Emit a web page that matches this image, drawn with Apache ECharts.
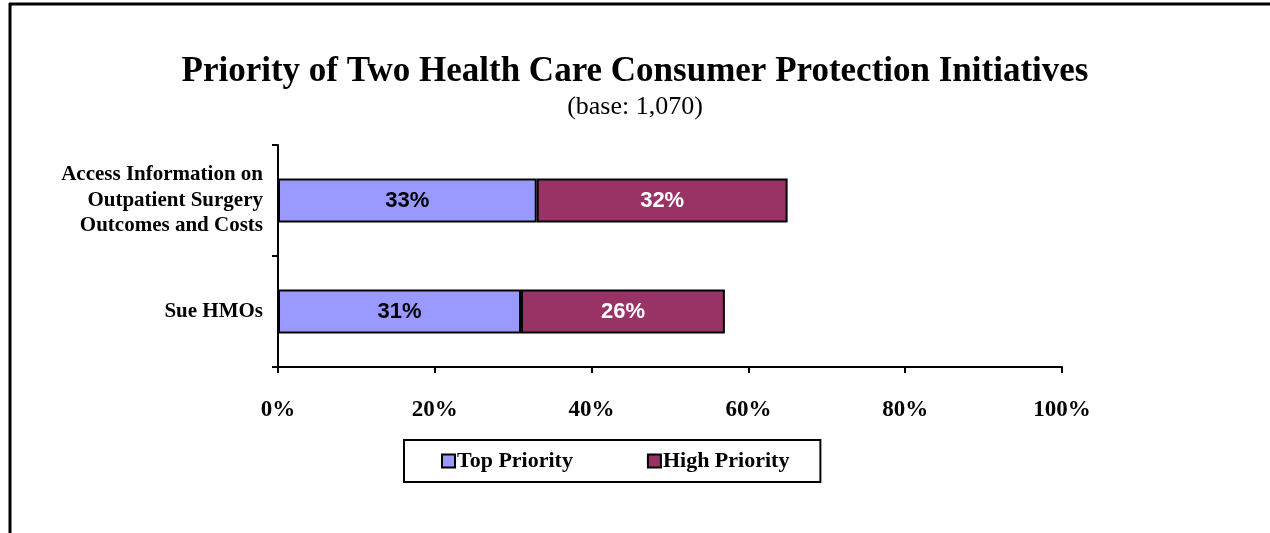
<!DOCTYPE html>
<html>
<head>
<meta charset="utf-8">
<script src="https://cdn.jsdelivr.net/npm/echarts@6/dist/echarts.min.js"></script>
<style>
html,body{margin:0;padding:0;background:#fff;}
#c{width:1270px;height:533px;}
</style>
</head>
<body>
<div id="c"></div>
<script>
const categories = ['Access Information on\nOutpatient Surgery\nOutcomes and Costs', 'Sue HMOs'];
const topPriority = [33, 31];
const highPriority = [32, 26];
const seriesNames = ['Top Priority', 'High Priority'];
const xTicks = [0, 20, 40, 60, 80, 100];

const serif = '"Liberation Serif", "Times New Roman", serif';
const sans = '"Liberation Sans", Arial, sans-serif';

const chart = echarts.init(document.getElementById('c'), null, {renderer: 'canvas'});
chart.setOption({
  backgroundColor: '#fff',
  animation: false,
  title: [{
    text: 'Priority of Two Health Care Consumer Protection Initiatives',
    left: 'center', top: 49,
    textStyle: {fontFamily: serif, fontWeight: 'bold', fontSize: 35, color: '#000'}
  }, {
    text: '(base: 1,070)',
    left: 'center', top: 89,
    textStyle: {fontFamily: serif, fontWeight: 'normal', fontSize: 26, color: '#000'}
  }],
  graphic: [
    {type: 'line', shape: {x1: 9, y1: 4, x2: 1270, y2: 4}, style: {stroke: '#000', lineWidth: 3}},
    {type: 'line', shape: {x1: 10, y1: 3, x2: 10, y2: 533}, style: {stroke: '#000', lineWidth: 3}}
  ],
  legend: {
    data: seriesNames,
    left: 404, top: 440,
    padding: [10, 31, 10, 37],
    itemGap: 74,
    itemWidth: 13, itemHeight: 13,
    icon: 'rect',
    borderColor: '#000', borderWidth: 2,
    textStyle: {fontFamily: serif, fontWeight: 'bold', fontSize: 22, color: '#000', padding: [0, 0, 0, -3]},
    itemStyle: {borderColor: '#000', borderWidth: 2}
  },
  grid: {left: 278, right: 208, top: 145, bottom: 166, containLabel: false},
  xAxis: {
    type: 'value', min: 0, max: 100, interval: 20,
    axisLine: {show: true, lineStyle: {color: '#000', width: 2}},
    axisTick: {show: true, length: 6, lineStyle: {color: '#000', width: 2}},
    splitLine: {show: false},
    axisLabel: {
      margin: 32,
      fontFamily: serif, fontWeight: 'bold', fontSize: 23, color: '#000',
      formatter: v => xTicks.includes(v) ? v + '%' : ''
    }
  },
  yAxis: {
    type: 'category', inverse: true, data: categories,
    axisLine: {show: true, lineStyle: {color: '#000', width: 2}},
    axisTick: {show: true, length: 6, lineStyle: {color: '#000', width: 2}},
    axisLabel: {
      margin: 15, fontFamily: serif, fontWeight: 'bold', fontSize: 21, color: '#000',
      lineHeight: 25.5, align: 'right'
    }
  },
  series: [{
    name: seriesNames[0], type: 'bar', stack: 'a', data: topPriority, barWidth: 44,
    itemStyle: {color: '#9999FF', borderColor: '#000', borderWidth: 2},
    label: {show: true, position: 'inside', formatter: '{c}%', fontFamily: sans, fontWeight: 'bold', fontSize: 22, color: '#000'}
  }, {
    name: seriesNames[1], type: 'bar', stack: 'a', data: highPriority, barWidth: 44,
    itemStyle: {color: '#993366', borderColor: '#000', borderWidth: 2},
    label: {show: true, position: 'inside', formatter: '{c}%', fontFamily: sans, fontWeight: 'bold', fontSize: 22, color: '#fff'}
  }]
});
</script>
</body>
</html>
